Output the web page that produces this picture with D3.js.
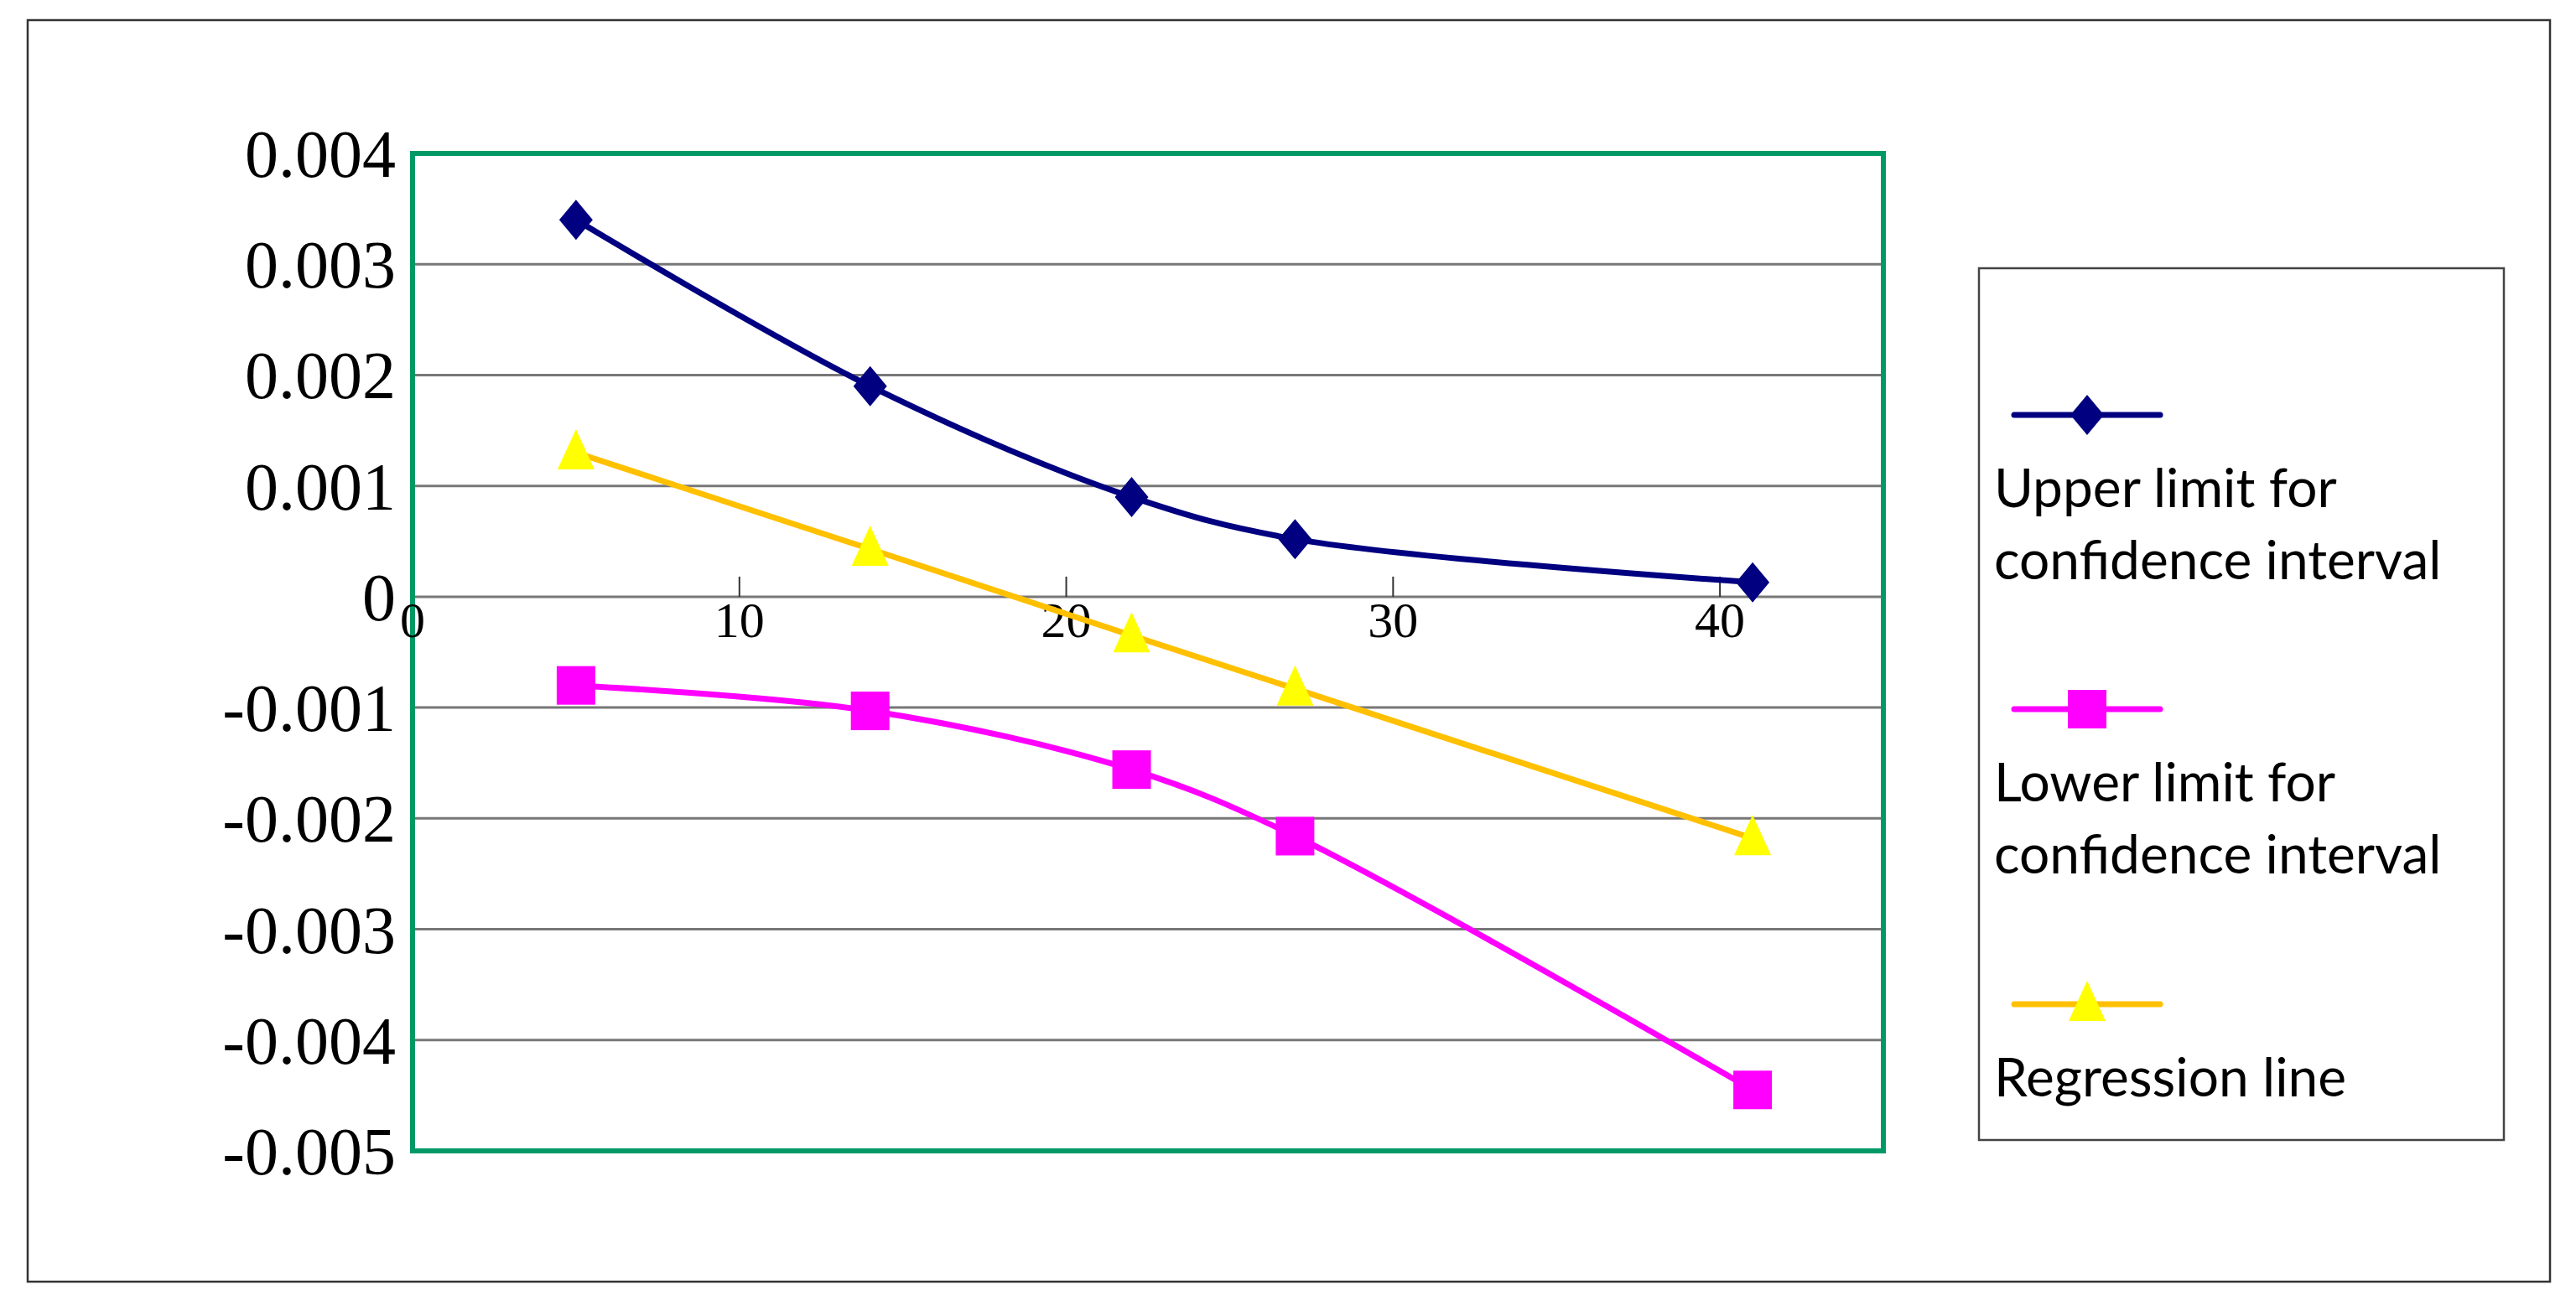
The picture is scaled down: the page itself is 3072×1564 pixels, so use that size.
<!DOCTYPE html>
<html><head><meta charset="utf-8">
<script src="https://cdn.jsdelivr.net/npm/d3@7"></script>
<style>body{margin:0;background:#fff}</style></head>
<body><svg id="c" width="3072" height="1564"></svg>
<script>
const xValues = [5, 14, 22, 27, 41];
const upper = [0.0034, 0.0019, 0.0009, 0.00052, 0.00013];
const lower = [-0.00080, -0.00103, -0.00156, -0.00216, -0.00445];
const regression = [0.0013, 0.00043, -0.00035, -0.00083, -0.00218];
const yTicks = [0.004, 0.003, 0.002, 0.001, 0, -0.001, -0.002, -0.003, -0.004, -0.005];
const xTicks = [0, 10, 20, 30, 40];
const seriesNames = ["Upper limit for|confidence interval", "Lower limit for|confidence interval", "Regression line"];

const svg = d3.select("#c");
const L = 492, R = 2246, T = 183, B = 1373;
const x = d3.scaleLinear().domain([0, 45]).range([L, R]);
const y = d3.scaleLinear().domain([-0.005, 0.004]).range([B, T]);

svg.append("rect").attr("x", 33).attr("y", 24).attr("width", 3008).attr("height", 1505)
  .attr("fill", "none").attr("stroke", "#333").attr("stroke-width", 2.5);

svg.append("g").selectAll("line").data(yTicks.slice(1, -1)).join("line")
  .attr("x1", L).attr("x2", R).attr("y1", d => y(d)).attr("y2", d => y(d))
  .attr("stroke", "#777").attr("stroke-width", 3);
svg.append("g").selectAll("line").data(xTicks.slice(1)).join("line")
  .attr("x1", d => x(d)).attr("x2", d => x(d)).attr("y1", y(0)).attr("y2", y(0) - 24)
  .attr("stroke", "#333").attr("stroke-width", 2);
svg.append("rect").attr("x", L).attr("y", T).attr("width", R - L).attr("height", B - T)
  .attr("fill", "none").attr("stroke", "#009966").attr("stroke-width", 6);

svg.append("g").selectAll("text").data(yTicks).join("text")
  .attr("x", 472).attr("y", d => y(d)).attr("dy", "0.35em").attr("text-anchor", "end")
  .attr("font-family", "Liberation Serif").attr("font-size", 80)
  .text(d => String(+d.toFixed(3)));
svg.append("g").selectAll("text").data(xTicks).join("text")
  .attr("x", d => x(d)).attr("y", y(0) + 48).attr("text-anchor", "middle")
  .attr("font-family", "Liberation Serif").attr("font-size", 60).text(d => d);

const colors = ["#000080", "#ff00ff", "#ffc000"];
const mcolors = ["#000080", "#ff00ff", "#ffff00"];
const data = [upper, lower, regression];
const curves = [d3.curveCatmullRom, d3.curveCatmullRom, d3.curveLinear];
const line = c => d3.line().x((d, i) => x(xValues[i])).y(d => y(d)).curve(c);

function marker(g, k, cx, cy) {
  if (k === 0) g.append("path").attr("d", `M${cx},${cy-24}L${cx+20},${cy}L${cx},${cy+24}L${cx-20},${cy}Z`).attr("fill", mcolors[k]);
  else if (k === 1) g.append("rect").attr("x", cx-23).attr("y", cy-23).attr("width", 46).attr("height", 46).attr("fill", mcolors[k]);
  else g.append("path").attr("d", `M${cx},${cy-28}L${cx+22},${cy+20}L${cx-22},${cy+20}Z`).attr("fill", mcolors[k]);
}

data.forEach((s, k) => {
  svg.append("path").datum(s).attr("d", line(curves[k])).attr("fill", "none")
    .attr("stroke", colors[k]).attr("stroke-width", 7);
  const g = svg.append("g");
  s.forEach((v, i) => marker(g, k, x(xValues[i]), y(v)));
});

svg.append("rect").attr("x", 2360).attr("y", 320).attr("width", 626).attr("height", 1040)
  .attr("fill", "none").attr("stroke", "#444").attr("stroke-width", 2.5);
const ly = [495, 846, 1198];
seriesNames.forEach((n, k) => {
  svg.append("line").attr("x1", 2402).attr("x2", 2576).attr("y1", ly[k]).attr("y2", ly[k])
    .attr("stroke", colors[k]).attr("stroke-width", 7).attr("stroke-linecap", "round");
  marker(svg, k, 2489, ly[k]);
  n.split("|").forEach((t, j) => {
    svg.append("text").attr("x", 2378).attr("y", ly[k] + 110 + j * 86)
      .attr("font-family", "Lato, 'Open Sans', sans-serif").attr("font-size", 64).text(t);
  });
});
</script></body></html>
